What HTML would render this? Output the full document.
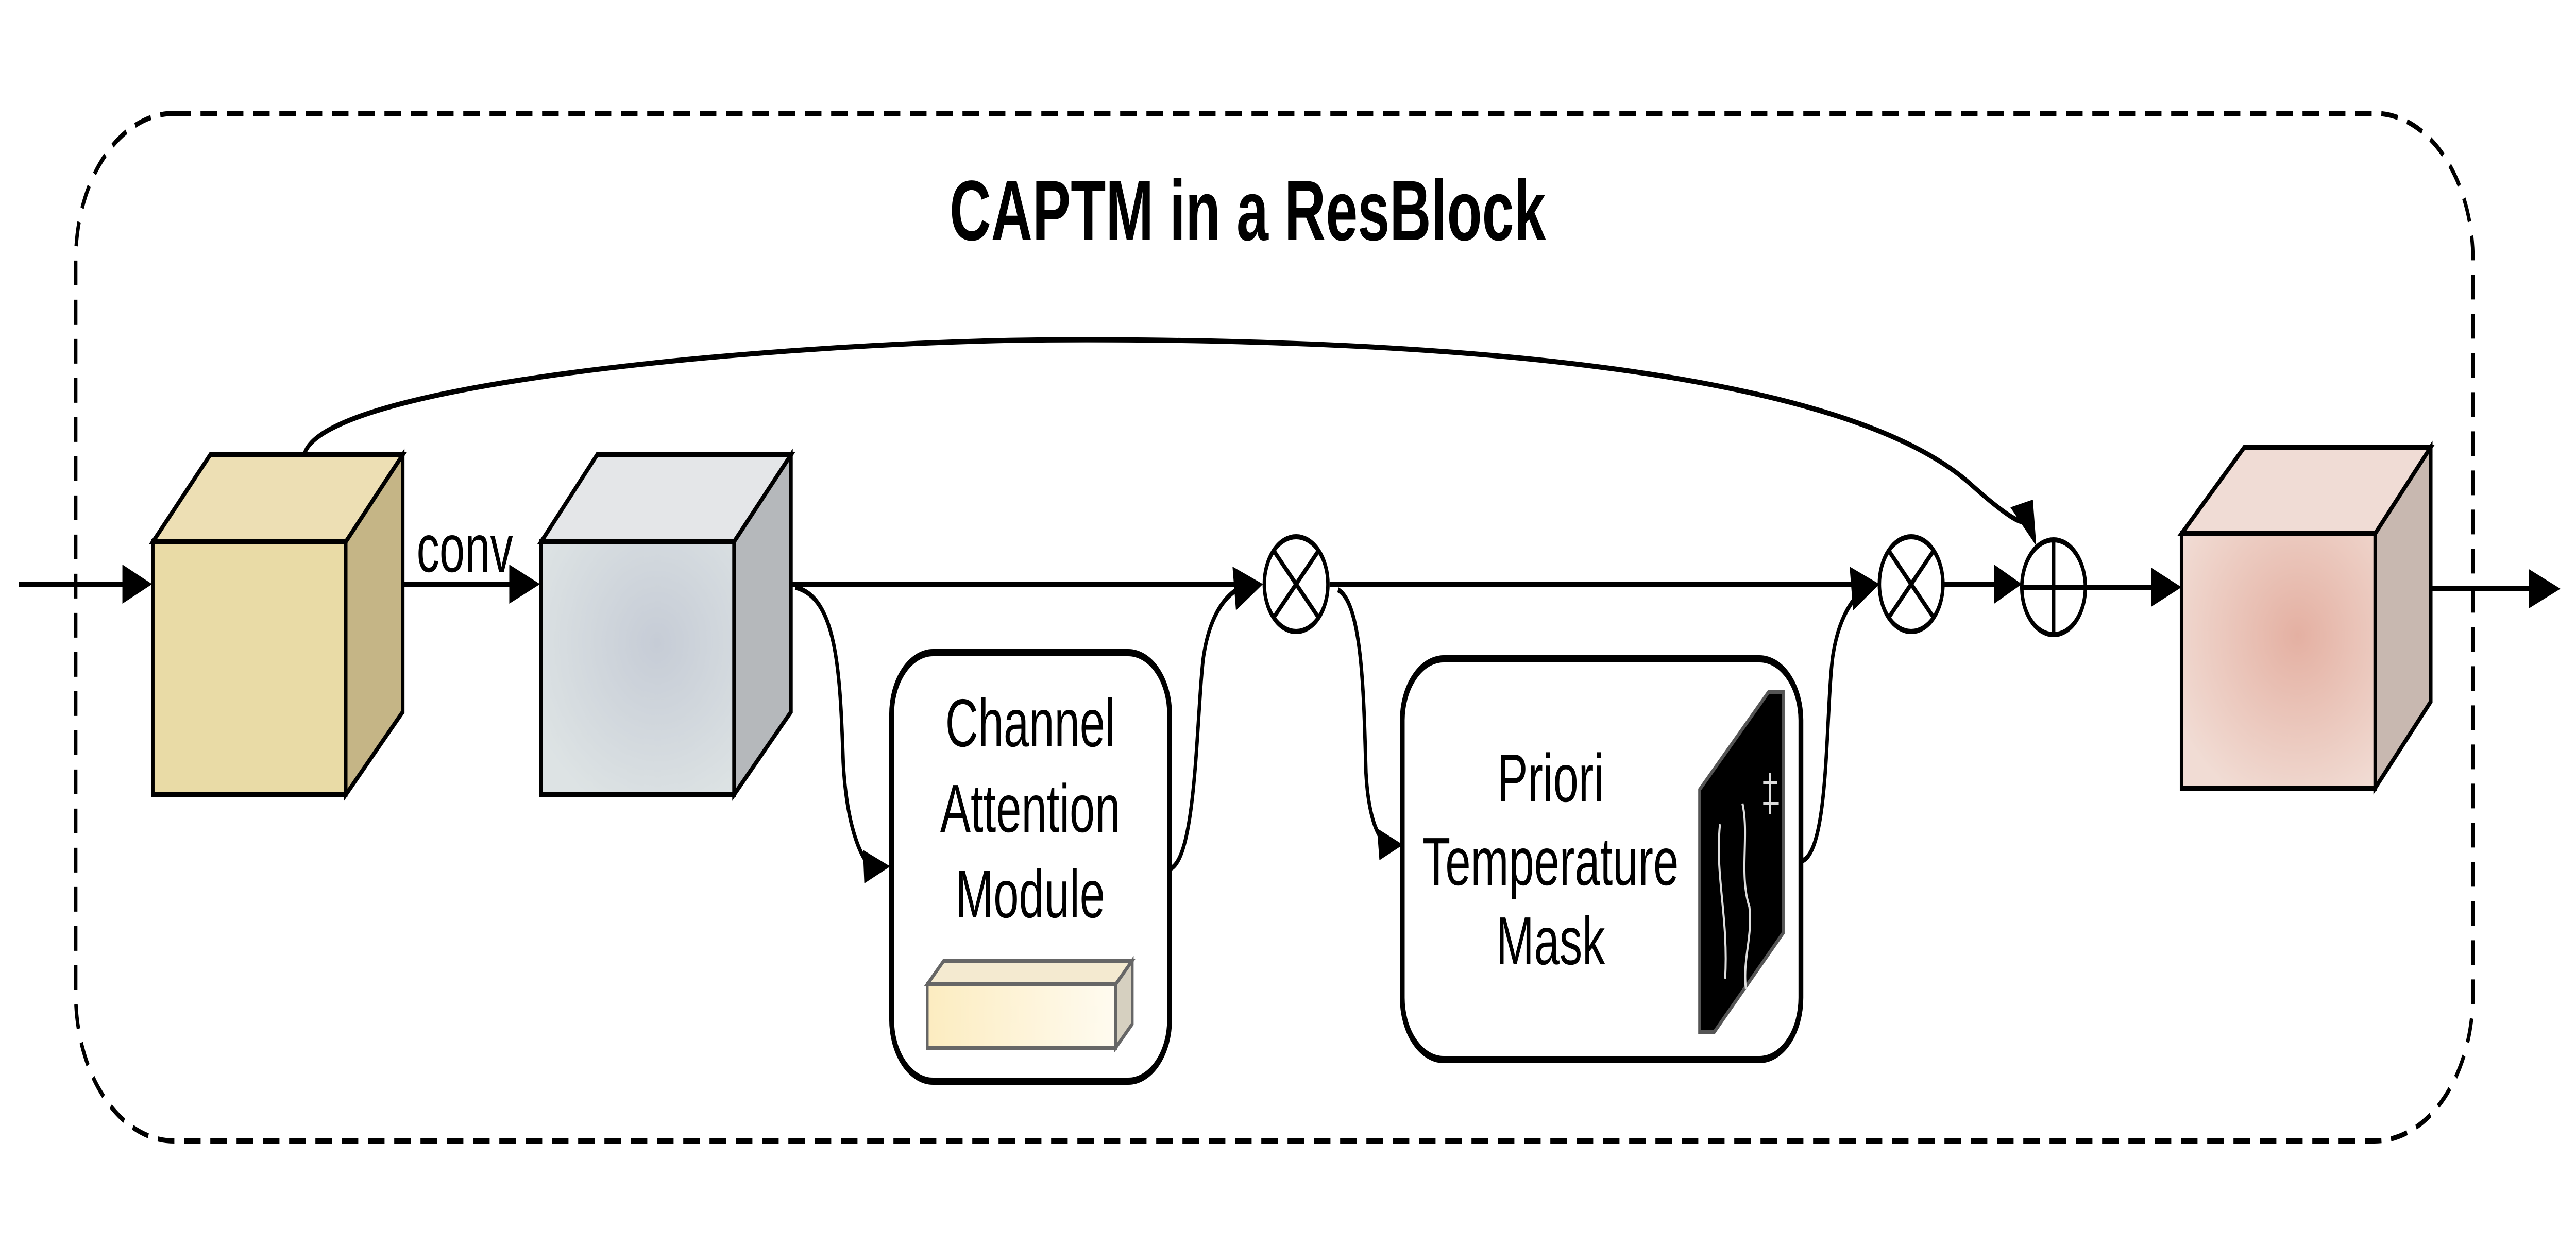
<!DOCTYPE html>
<html><head><meta charset="utf-8"><style>html,body{margin:0;padding:0;background:#fff;width:100%;height:100%;overflow:hidden}svg{display:block;width:100vw;height:100vh}</style></head>
<body>
<svg viewBox="0 0 7451 2417" preserveAspectRatio="none" xmlns="http://www.w3.org/2000/svg" font-family="Liberation Sans, Arial, sans-serif">
<defs>
<radialGradient id="g2" cx="0.6" cy="0.4" r="0.7"><stop offset="0" stop-color="#c6ccd6"/><stop offset="1" stop-color="#dde3e4"/></radialGradient>
<radialGradient id="g3" cx="0.6" cy="0.4" r="0.7"><stop offset="0" stop-color="#e4b0a2"/><stop offset="1" stop-color="#f1dcd4"/></radialGradient>
<linearGradient id="gb" x1="0" x2="1"><stop offset="0" stop-color="#fcecc0"/><stop offset="1" stop-color="#fffbf0"/></linearGradient>
</defs>
<rect width="7451" height="2417" fill="#fff"/>
<rect x="219" y="220" width="6934" height="1995" rx="285" ry="285" fill="none" stroke="#000" stroke-width="10" stroke-dasharray="48 28"/>
<text x="3609" y="466" font-size="166" font-weight="bold" text-anchor="middle">CAPTM in a ResBlock</text>

<g stroke="#000" stroke-width="10" fill="none">
<line x1="54" y1="1134" x2="370" y2="1134"/>
<line x1="1165" y1="1134" x2="1490" y2="1134"/>
<line x1="2288" y1="1134" x2="3570" y2="1134"/>
<path d="M2300,1140 C2420,1160 2430,1300 2439,1480 C2450,1620 2500,1670 2510,1675"/>
<path d="M3383,1687 C3460,1670 3460,1400 3480,1280 C3500,1180 3560,1150 3590,1140"/>
<line x1="3846" y1="1134" x2="5370" y2="1134"/>
<path d="M3870,1145 C3940,1170 3945,1350 3951,1500 C3960,1610 4000,1630 4000,1632"/>
<path d="M5209,1672 C5290,1660 5280,1400 5300,1280 C5320,1180 5380,1150 5400,1140"/>
<line x1="5620" y1="1134" x2="5780" y2="1134"/>
<line x1="6032" y1="1140" x2="6230" y2="1140"/>
<line x1="7031" y1="1143" x2="7320" y2="1143"/>
<path d="M880,883 C930,740 2300,665 3000,660 C4000,655 5300,700 5700,940 C5800,1000 5850,1020 5855,1010"/>
</g>
<g fill="#000">
<polygon points="354,1096 440,1134 354,1172"/>
<polygon points="1473,1096 1562,1134 1473,1172"/>
<polygon points="3565,1100 3653,1134 3575,1185"/>
<polygon points="2496,1650 2575,1682 2500,1715"/>
<polygon points="5350,1100 5436,1134 5360,1185"/>
<polygon points="3983,1608 4058,1640 3990,1670"/>
<polygon points="5768,1096 5848,1134 5768,1172"/>
<polygon points="6222,1102 6310,1140 6222,1178"/>
<polygon points="7315,1105 7406,1143 7315,1181"/>
<polygon points="5815,985 5890,1060 5880,970"/>
</g>

<g stroke="#000" stroke-width="10">
<polygon points="442,1052 608,883 1165,883 1000,1052" fill="#eddfb4"/>
<polygon points="1000,1052 1165,883 1165,1382 1000,1543" fill="#c5b586"/>
<rect x="442" y="1052" width="558" height="491" fill="#e9dba6"/>
</g>
<g stroke="#000" stroke-width="10">
<polygon points="1565,1052 1727,883 2288,883 2123,1052" fill="#e4e6e8"/>
<polygon points="2123,1052 2288,883 2288,1382 2123,1543" fill="#b5b8bb"/>
<rect x="1565" y="1052" width="558" height="491" fill="url(#g2)"/>
</g>
<g stroke="#000" stroke-width="10">
<polygon points="6310,1036 6492,868 7031,868 6870,1036" fill="#f0dcd5"/>
<polygon points="6870,1036 7031,868 7031,1362 6870,1530" fill="#c8b8b0"/>
<rect x="6310" y="1036" width="560" height="494" fill="url(#g3)"/>
</g>
<text x="1205" y="1110" font-size="132">conv</text>

<rect x="2579" y="1267" width="804" height="832" rx="120" ry="120" fill="#fff" stroke="#000" stroke-width="14"/>
<g font-size="132" text-anchor="middle">
<text x="2980" y="1449">Channel</text>
<text x="2980" y="1615">Attention</text>
<text x="2980" y="1781">Module</text>
</g>
<g stroke="#666" stroke-width="8">
<polygon points="2682,1911 2730,1865 3275,1865 3227,1911" fill="#f4ead0"/>
<polygon points="3227,1911 3275,1865 3275,1988 3227,2034" fill="#d6d0c0"/>
<rect x="2682" y="1911" width="545" height="123" fill="url(#gb)"/>
</g>

<rect x="4056" y="1279" width="1153" height="778" rx="120" ry="120" fill="#fff" stroke="#000" stroke-width="14"/>
<g font-size="132" text-anchor="middle">
<text x="4485" y="1556">Priori</text>
<text x="4485" y="1718">Temperature</text>
<text x="4485" y="1872">Mask</text>
</g>
<polygon points="4916,1533 5115,1344 5158,1344 5158,1811 4959,2003 4916,2003" fill="#000" stroke="#555" stroke-width="8"/>
<g stroke="#ddd" stroke-width="6" fill="none">
<path d="M4975,1600 C4960,1700 5000,1780 4990,1900"/>
<path d="M5040,1560 C5060,1620 5030,1700 5060,1760 C5070,1820 5040,1860 5050,1920"/>
<path d="M5100,1520 L5140,1520 M5100,1560 L5145,1560 M5120,1500 L5120,1580"/>
</g>

<g stroke="#000" stroke-width="10" fill="#fff">
<circle cx="3749" cy="1134" r="92"/>
<circle cx="5528" cy="1134" r="92"/>
<circle cx="5940" cy="1140" r="92"/>
</g>
<g stroke="#000" stroke-width="10">
<line x1="3684" y1="1069" x2="3814" y2="1199"/><line x1="3814" y1="1069" x2="3684" y2="1199"/>
<line x1="5463" y1="1069" x2="5593" y2="1199"/><line x1="5593" y1="1069" x2="5463" y2="1199"/>
<line x1="5848" y1="1140" x2="6032" y2="1140"/><line x1="5940" y1="1048" x2="5940" y2="1232"/>
</g>
</svg>
</body></html>
